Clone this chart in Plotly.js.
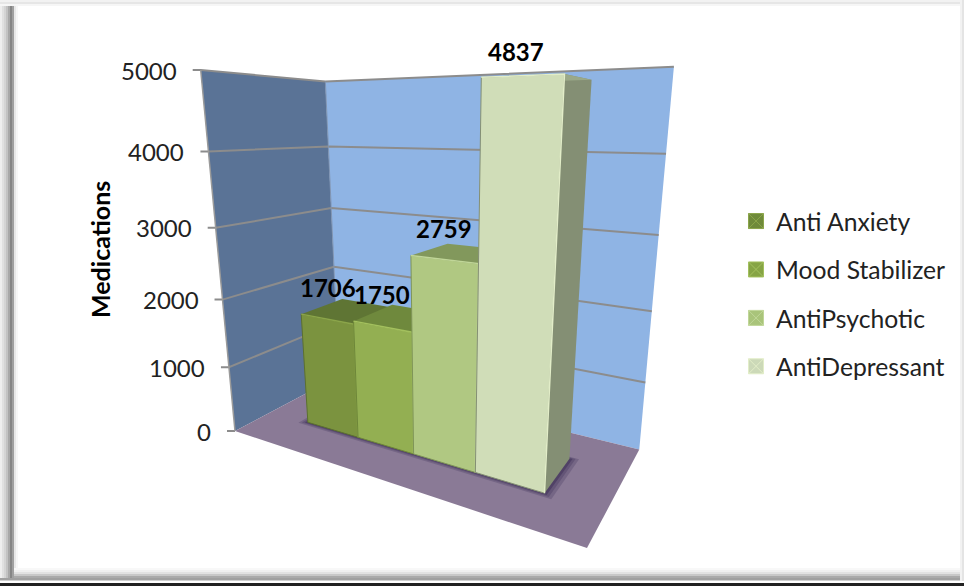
<!DOCTYPE html>
<html>
<head>
<meta charset="utf-8">
<script src="https://cdn.plot.ly/plotly-3.0.1.min.js"></script>
<style>html,body{margin:0;padding:0;background:#fff}#chart{width:964px;height:586px}</style>
</head>
<body>
<div id="chart"></div>
<script>
// Medications by class
const seriesNames = ['Anti Anxiety', 'Mood Stabilizer', 'AntiPsychotic', 'AntiDepressant'];
const medications = [1706, 1750, 2759, 4837];
const valueTicks = [0, 1000, 2000, 3000, 4000, 5000];
const axisTitle = 'Medications';

// Face colours per series
const frontColors = ['#7b933f', '#93af52', '#b0c882', '#d0ddb8'];
const topColors = ['#5f7534', '#6f893d', '#82985c', '#9aa888'];
const sideColors = ['#5c7030', '#6e8739', '#7f9558', '#848f74'];
const lightEdges = ['#8ba54a', '#a3c05e', '#c0d698', '#e2edc8'];
const legendColors = ['#6f8a3a', '#86a445', '#a9c47a', '#ccd9b8'];

// Box geometry in plot-box units: a along the floor front, b into the depth, v is the value
const vMax = 5000;
const spanA = [0.14, 0.856];
const spanB = [0.31, 0.70];
const tickLength = 8;

// Screen anchors of the plot box corners
const anchors = {
  o: [235, 431], a: [587, 548], b: [339, 376], v: [200.7, 70],
  ab: [639, 449], bv: [325, 82], abv: [674, 66]
};
// Where each wall edge crosses the gridlines (1000 to 4000)
const frontEdge = [[229, 366.7], [222.5, 298.3], [215.7, 227.7], [208, 150.7]];
const backEdge = [[336, 322], [333.3, 266.7], [330.7, 208], [327.7, 146.7]];
const rightEdge = [[645, 382], [652, 312], [659, 236], [666.7, 154]];

function solve3(M, r) {
  const det = m => m[0][0]*(m[1][1]*m[2][2]-m[1][2]*m[2][1]) - m[0][1]*(m[1][0]*m[2][2]-m[1][2]*m[2][0]) + m[0][2]*(m[1][0]*m[2][1]-m[1][1]*m[2][0]);
  const d = det(M);
  return [0, 1, 2].map(c => det(M.map((row, i) => row.map((x, j) => j === c ? r[i] : x))) / d);
}

// Least-squares fit of the perspective map from the corners and wall edges
const h = (function () {
  const {o, a, b, v} = anchors;
  const samples = [[1, 1, 0, anchors.ab], [0, 1, 1, anchors.bv], [1, 1, 1, anchors.abv]];
  [1, 2, 3, 4].forEach((t, i) => {
    const k = valueTicks[t] / vMax;
    samples.push([0, 0, k, frontEdge[i]], [0, 1, k, backEdge[i]], [1, 1, k, rightEdge[i]]);
  });
  const rows = [], rhs = [];
  samples.forEach(([i, j, k, s]) => {
    [0, 1].forEach(d => {
      rows.push([i*(a[d]-s[d]), j*(b[d]-s[d]), k*(v[d]-s[d])]);
      rhs.push(s[d]-o[d]-i*(a[d]-o[d])-j*(b[d]-o[d])-k*(v[d]-o[d]));
    });
  });
  const N = [0, 1, 2].map(p => [0, 1, 2].map(q => rows.reduce((t, r) => t + r[p]*r[q], 0)));
  const y = [0, 1, 2].map(p => rows.reduce((t, r, i) => t + r[p]*rhs[i], 0));
  return solve3(N, y);
})();

function project(pa, pb, value) {
  const {o, a, b, v} = anchors;
  const w = value / vMax;
  const den = 1 + pa*h[0] + pb*h[1] + w*h[2];
  return [0, 1].map(d => (o[d] + pa*(a[d]*(1+h[0])-o[d]) + pb*(b[d]*(1+h[1])-o[d]) + w*(v[d]*(1+h[2])-o[d])) / den);
}

function poly(points, fill, extra) {
  const xs = points.map(p => p[0]), ys = points.map(p => p[1]);
  return Object.assign({
    type: 'scatter', mode: 'lines', x: xs.concat(xs[0]), y: ys.concat(ys[0]),
    fill: 'toself', fillcolor: fill, line: {width: 0, color: fill},
    hoverinfo: 'skip', showlegend: false
  }, extra || {});
}
function stroke(points, color, width) {
  return {
    type: 'scatter', mode: 'lines', x: points.map(p => p[0]), y: points.map(p => p[1]),
    line: {color: color, width: width}, hoverinfo: 'skip', showlegend: false
  };
}

const traces = [];
// Walls and floor
traces.push(poly([project(0,0,0), project(0,1,0), project(0,1,vMax), project(0,0,vMax)], '#5a7396'));
traces.push(poly([project(0,1,0), project(1,1,0), project(1,1,vMax), project(0,1,vMax)], '#8fb4e4'));
traces.push(poly([project(0,0,0), project(1,0,0), project(1,1,0), project(0,1,0)], '#8a7a96'));

// Gridlines with their outward ticks
valueTicks.forEach(t => {
  const wall = project(0,0,t);
  const tick = [wall[0] - tickLength, wall[1]];
  const pts = t === 0 ? [tick, wall] : [tick, wall, project(0,1,t), project(1,1,t)];
  traces.push(stroke(pts, '#8c8c8c', 2));
});
traces.push(stroke([project(0,0,0), project(0,0,vMax)], '#9a9a9a', 1.5));
traces.push(stroke([project(0,1,0), project(0,1,vMax)], '#7f94b2', 1));

// Soft contact shadow on the floor
const barStep = (spanA[1] - spanA[0]) / medications.length;
[[0.022, 'rgba(70,55,95,0.3)'], [0.014, 'rgba(70,55,95,0.35)'], [0.007, 'rgba(60,45,85,0.5)']].forEach(([g, c]) => {
  traces.push(poly([
    project(spanA[0]-g, spanB[0]-g*1.5, 0), project(spanA[1]+g, spanB[0]-g*1.5, 0),
    project(spanA[1]+g, spanB[1]+g, 0), project(spanA[0]-g, spanB[1]+g, 0)
  ], c));
});

// Bars, drawn left to right so nearer faces cover the earlier ones
medications.forEach((val, i) => {
  const a0 = spanA[0] + i*barStep, a1 = a0 + barStep;
  const [b0, b1] = spanB;
  traces.push(poly([project(a1,b0,0), project(a1,b1,0), project(a1,b1,val), project(a1,b0,val)], sideColors[i]));
  traces.push(poly([project(a0,b0,val), project(a1,b0,val), project(a1,b1,val), project(a0,b1,val)], topColors[i]));
  traces.push(poly([project(a0,b0,0), project(a1,b0,0), project(a1,b0,val), project(a0,b0,val)], frontColors[i],
    {line: {width: 1, color: sideColors[i]}, name: seriesNames[i]}));
  traces.push(stroke([project(a0,b0,val), project(a1,b0,val), project(a1,b0,0)], lightEdges[i], 1.5));
});

// Legend entries
seriesNames.forEach((n, i) => {
  traces.push({
    type: 'scatter', mode: 'markers', x: [null], y: [null], name: n, legendgroup: n,
    marker: {symbol: 'square-x', size: 15, color: legendColors[i], line: {color: lightEdges[i], width: 1}},
    hoverinfo: 'skip'
  });
});

// Value labels on the bars and the value axis labels
const labelShift = [1, 0, 0, -5];
const labelLift = [32, 32, 31, 24];
const annotations = medications.map((val, i) => {
  const a0 = spanA[0] + i*barStep;
  const p = project(a0 + barStep/2, spanB[0], val);
  return {x: p[0], y: p[1], xref: 'x', yref: 'y', text: '<b>' + val + '</b>', showarrow: false,
    xshift: labelShift[i], yshift: labelLift[i], font: {family: 'Lato', size: 24, color: '#000'}};
});
valueTicks.forEach(t => {
  const p = project(0, 0, t);
  annotations.push({x: p[0] - tickLength, y: p[1], xref: 'x', yref: 'y', text: String(t), showarrow: false,
    xanchor: 'right', xshift: -14, yshift: 0, font: {family: 'Lato', size: 24, color: '#222'}});
});
annotations.push({x: 100, y: 250, xref: 'x', yref: 'y', text: '<b>' + axisTitle + '</b>', showarrow: false,
  textangle: -90, font: {family: 'Lato', size: 25, color: '#000'}});

// Card edge: soft shadow on the left and bottom
const shapes = [];
function band(x0, x1, y0, y1, c) {
  shapes.push({type: 'rect', xref: 'x', yref: 'y', layer: 'below', x0: x0, x1: x1, y0: y0, y1: y1, fillcolor: c, line: {width: 0}});
}
[[0,'#eeeeee'],[2,'#e0e0e0'],[4,'#d4d4d4'],[6,'#c2c2c2'],[8,'#a8a8a8'],[10,'#868686'],[12,'#a0a0a0'],[14,'#e8e8e8'],[16,'#f7f7f7']].forEach(([x, c]) => band(x, x+2, 4, 583, c));
[[0,'#f2f2f2'],[2,'#e6e6e6'],[4,'#f6f6f6']].forEach(([y, c]) => band(0, 964, y, y+2, c));
[[568,'#f8f8f8'],[570,'#f0f0f0'],[572,'#e2e2e2'],[574,'#c8c8c8'],[576,'#aaaaaa'],[578,'#a0a0a0'],[580,'#d0d0d0'],[581,'#ffffff'],[583,'#222222']].forEach(([y, c], i, arr) => {
  band(i < 5 ? 14 : 0, 964, y, i + 1 < arr.length ? arr[i+1][0] : 586, c);
});
[[960,'#f2f2f2'],[962,'#e4e4e4']].forEach(([x, c]) => band(x, x+2, 0, 581, c));

const layout = {
  width: 964, height: 586, margin: {l: 0, r: 0, t: 0, b: 0},
  paper_bgcolor: '#ffffff', plot_bgcolor: 'rgba(0,0,0,0)',
  xaxis: {range: [0, 964], visible: false, fixedrange: true},
  yaxis: {range: [586, 0], visible: false, fixedrange: true},
  showlegend: true,
  legend: {
    x: 736/964, y: 1 - 198.5/586, xanchor: 'left', yanchor: 'top',
    traceorder: 'grouped', tracegroupgap: 13.3, itemwidth: 30,
    font: {family: 'Lato', size: 24.7, color: '#222'}, bgcolor: 'rgba(0,0,0,0)'
  },
  shapes: shapes, annotations: annotations, hovermode: false
};

Plotly.newPlot('chart', traces, layout, {displayModeBar: false, staticPlot: true});
</script>
</body>
</html>
